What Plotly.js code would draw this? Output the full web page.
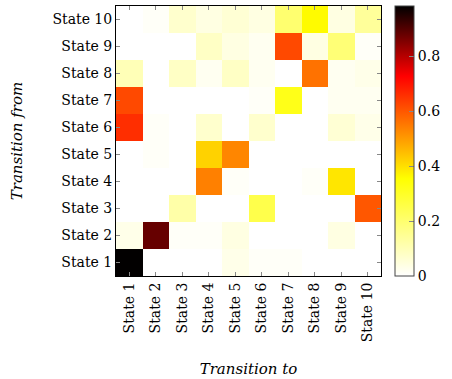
<!DOCTYPE html>
<html><head><meta charset="utf-8">
<script src="https://cdn.plot.ly/plotly-3.0.1.min.js"></script>
<style>html,body{margin:0;padding:0;background:#fff}</style>
</head><body>
<div id="chart" style="width:452px;height:379px"></div>
<script>
const statesTo = ["State 1","State 2","State 3","State 4","State 5","State 6","State 7","State 8","State 9","State 10"];
const statesFrom = ["State 1","State 2","State 3","State 4","State 5","State 6","State 7","State 8","State 9","State 10"];
// rows: transition from State 1 .. State 10; columns: transition to State 1 .. State 10
const row1  = [0.98, 0.00, 0.00, 0.00, 0.03, 0.01, 0.01, 0.00, 0.00, 0.00];
const row2  = [0.03, 0.88, 0.01, 0.01, 0.04, 0.00, 0.00, 0.00, 0.04, 0.00];
const row3  = [0.00, 0.00, 0.12, 0.00, 0.00, 0.25, 0.00, 0.00, 0.00, 0.60];
const row4  = [0.00, 0.00, 0.00, 0.54, 0.01, 0.00, 0.00, 0.01, 0.39, 0.00];
const row5  = [0.00, 0.01, 0.00, 0.42, 0.53, 0.00, 0.00, 0.00, 0.00, 0.00];
const row6  = [0.66, 0.01, 0.00, 0.07, 0.00, 0.07, 0.00, 0.00, 0.06, 0.03];
const row7  = [0.62, 0.00, 0.00, 0.00, 0.00, 0.01, 0.32, 0.00, 0.02, 0.02];
const row8  = [0.10, 0.00, 0.08, 0.02, 0.08, 0.02, 0.00, 0.56, 0.02, 0.03];
const row9  = [0.00, 0.00, 0.00, 0.08, 0.04, 0.02, 0.62, 0.04, 0.19, 0.01];
const row10 = [0.00, 0.01, 0.07, 0.04, 0.06, 0.04, 0.20, 0.36, 0.04, 0.14];
const zMatrix = [row1,row2,row3,row4,row5,row6,row7,row8,row9,row10];

const colorscale = [
  [0.0, "rgb(255,255,255)"],
  [0.36, "rgb(255,255,0)"],
  [0.74, "rgb(255,0,0)"],
  [1.0, "rgb(0,0,0)"]
];
const fam = "DejaVu Serif, Liberation Serif, serif";
const font = {family: fam, size: 14, color: "#000"};
const titleFont = {family: fam, size: 15, color: "#000"};

const trace = {
  type: "heatmap",
  x: statesTo, y: statesFrom, z: zMatrix,
  zmin: 0, zmax: 0.982,
  colorscale: colorscale,
  xgap: 0, ygap: 0,
  colorbar: {
    x: 1.052, xanchor: "left", thickness: 19, thicknessmode: "pixels",
    len: 1, lenmode: "fraction", y: 0.5, yanchor: "middle", ypad: 0, xpad: 0,
    outlinewidth: 1, outlinecolor: "#444",
    tickvals: [0, 0.2, 0.4, 0.6, 0.8], ticktext: ["0","0.2","0.4","0.6","0.8"],
    ticks: "inside", ticklen: 5, tickcolor: "#888", tickwidth: 1,
    tickfont: font
  },
  hoverinfo: "skip"
};

const layout = {
  width: 452, height: 379,
  margin: {l: 116, r: 67, t: 6, b: 103},
  paper_bgcolor: "#fff", plot_bgcolor: "#fff",
  font: font,
  xaxis: {
    type: "category", tickangle: -90, ticks: "inside", ticklen: 4, tickcolor: "#888",
    mirror: "ticks", showline: true, linecolor: "#000", linewidth: 1,
    showgrid: false, zeroline: false, tickfont: font, automargin: false,
    title: {text: "<i>Transition to</i>", font: titleFont, standoff: 22}
  },
  yaxis: {
    type: "category", ticks: "inside", ticklen: 4, tickcolor: "#888",
    mirror: "ticks", showline: true, linecolor: "#000", linewidth: 1,
    showgrid: false, zeroline: false, tickfont: font, automargin: false,
    title: {text: "<i>Transition from</i>", font: titleFont, standoff: 26}
  }
};
Plotly.newPlot("chart", [trace], layout, {displayModeBar: false, staticPlot: true});
</script>
</body></html>
